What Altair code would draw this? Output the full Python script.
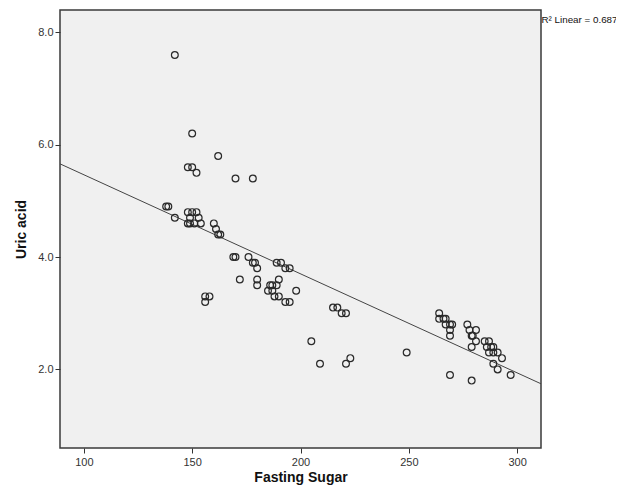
import altair as alt
import pandas as pd

fasting_sugar = [
    142, 150, 162, 148, 150, 152, 170, 178,
    138, 139, 142, 148, 150, 152, 149, 153,
    148, 149, 151, 154, 160, 161, 162, 163,
    169, 170, 176, 178, 179, 180, 172, 180, 180,
    156, 158, 156,
    189, 191, 193, 195, 190, 186, 187, 189, 185, 187, 198, 188, 190, 193, 195,
    215, 217, 219, 221, 205, 209, 221, 223, 249,
    264, 264, 266, 267, 267, 269, 270, 269, 269,
    277, 278, 281, 279, 279.5, 281, 279,
    285, 287, 286, 288, 289, 287, 289, 291, 293, 289, 291, 297, 269, 279,
]
uric_acid = [
    7.6, 6.2, 5.8, 5.6, 5.6, 5.5, 5.4, 5.4,
    4.9, 4.9, 4.7, 4.8, 4.8, 4.8, 4.7, 4.7,
    4.6, 4.6, 4.6, 4.6, 4.6, 4.5, 4.4, 4.4,
    4.0, 4.0, 4.0, 3.9, 3.9, 3.8, 3.6, 3.6, 3.5,
    3.3, 3.3, 3.2,
    3.9, 3.9, 3.8, 3.8, 3.6, 3.5, 3.5, 3.5, 3.4, 3.4, 3.4, 3.3, 3.3, 3.2, 3.2,
    3.1, 3.1, 3.0, 3.0, 2.5, 2.1, 2.1, 2.2, 2.3,
    3.0, 2.9, 2.9, 2.9, 2.8, 2.8, 2.8, 2.7, 2.6,
    2.8, 2.7, 2.7, 2.6, 2.6, 2.5, 2.4,
    2.5, 2.5, 2.4, 2.4, 2.4, 2.3, 2.3, 2.3, 2.2, 2.1, 2.0, 1.9, 1.9, 1.8,
]
x_ticks = [100, 150, 200, 250, 300]
y_ticks = [2, 4, 6, 8]
r2_label = ["R² Linear = 0.687"]

df = pd.DataFrame({"sugar": fasting_sugar, "uric": uric_acid})

W, H = 481, 438
FONT = "Liberation Sans"

xscale = alt.Scale(domain=[89, 311], nice=False, zero=False)
yscale = alt.Scale(domain=[0.6, 8.4], nice=False, zero=False)

xaxis = alt.Axis(title="Fasting Sugar", values=x_ticks, grid=False, domain=False,
                 tickColor="#333333", tickSize=5, labelColor="#333333",
                 labelFontSize=11, labelFont=FONT, labelPadding=3,
                 titleFont=FONT, titleFontSize=14, titleFontWeight="bold",
                 titleColor="#111111", titlePadding=3)
yaxis = alt.Axis(title="Uric acid", values=y_ticks, format=".1f", grid=False, domain=False,
                 tickColor="#333333", tickSize=5, labelColor="#333333",
                 labelFontSize=11, labelFont=FONT, labelPadding=2,
                 titleFont=FONT, titleFontSize=14, titleFontWeight="bold",
                 titleColor="#111111", titlePadding=9)

base = alt.Chart(df)

points = base.mark_point(shape="circle", filled=False, size=46, stroke="#2a2a2a",
                         strokeWidth=1.2, opacity=1).encode(
    x=alt.X("sugar:Q", scale=xscale, axis=xaxis),
    y=alt.Y("uric:Q", scale=yscale, axis=yaxis),
)

line = base.transform_regression("sugar", "uric", extent=[89, 311]).mark_line(
    color="#444444", strokeWidth=1, clip=True
).encode(
    x=alt.X("sugar:Q", scale=xscale),
    y=alt.Y("uric:Q", scale=yscale),
)

label = alt.Chart(pd.DataFrame({"t": r2_label})).mark_text(
    align="left", baseline="alphabetic", font=FONT, fontSize=9.8, color="#111111"
).encode(
    text="t:N",
    x=alt.value(W + 0.5),
    y=alt.value(13),
)

chart = alt.layer(line, points, label).properties(
    width=W, height=H,
    autosize=alt.AutoSizeParams(type="none"),
    padding={"left": 52, "top": 2, "right": 75, "bottom": 38},
    background="white",
).configure_view(
    fill="#F0F0F0", stroke="#3a3a3a", strokeWidth=1.5
)

chart.save("out.html", embed_options={"renderer": "svg", "actions": False})
